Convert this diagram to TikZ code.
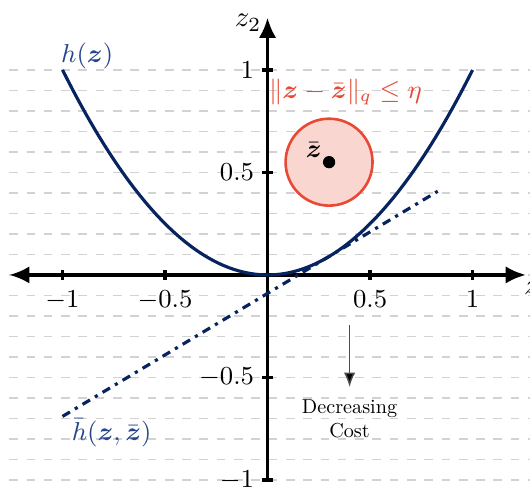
\documentclass[tikz,border=0pt]{standalone}
\usepackage{amsmath,amssymb}
\usepackage{tikz}
\usetikzlibrary{arrows.meta,positioning,calc}
\usepackage{xcolor}
\definecolor{navy}{RGB}{8,36,96}
\definecolor{navytext}{RGB}{40,70,140}
\definecolor{ballred}{RGB}{232,72,52}
\definecolor{ballfill}{RGB}{250,214,208}

\begin{document}
\begin{tikzpicture}[x=2.5cm, y=2.5cm, font=\small,
    gridline/.style={dashed, gray!35, line width=0.5pt},
    axisline/.style={line width=1.2pt, black},
    tick/.style={line width=1.2pt, black},
    curve/.style={navy, line width=1.1pt}]
    \clip (-1.305,-1.054) rectangle (1.28,1.341);

    % Background grid
    \foreach \y in {-10,...,10} {
        \draw[gridline] (-1.26, \y/10) -- (1.3, \y/10);
    }

    % Axes
    \coordinate (xmin) at (-1.26, 0);
    \coordinate (xmax) at (1.26, 0);
    \coordinate (ymin) at (0, -1);
    \coordinate (ymax) at (0, 1.255);
    \draw[axisline, {Latex[length=7pt,width=6pt]}-{Latex[length=7pt,width=6pt]}] (xmin) -- (xmax);
    \draw[axisline, -{Latex[length=7pt,width=6pt]}] (ymin) -- (ymax);
    \node[anchor=north west, inner sep=1pt, font=\normalsize] (zone) at (1.235, -0.02) {$z_1$};
    \node[left, inner sep=2pt, font=\normalsize] (ztwo) at (0, 1.23) {$z_2$};

    % Ticks
    \foreach \t/\lab in {-1/-1, -0.5/-0.5, 0.5/0.5, 1/1} {
        \draw[tick] (\t, -0.025) -- (\t, 0.025);
        \node[below, inner sep=2pt] at (\t, -0.045) {$\lab$};
        \draw[tick] (-0.025, \t) -- (0.025, \t);
        \node[left, inner sep=2pt] at (-0.035, \t) {$\lab$};
    }

    % Cost function and its linearisation
    \draw[curve, domain=-1:1, samples=80, smooth] plot (\x, {\x*\x});
    \draw[navy, line width=1.1pt, dash dot] (-1, -0.69) -- (0.83, 0.408);
    \node[text=navytext] (hlab) at (-0.88, 1.07) {$h(\boldsymbol z)$};
    \node[text=navytext] (hbarlab) at (-0.76, -0.77) {$\bar h(\boldsymbol z, \bar{\boldsymbol z})$};

    % Trust region
    \coordinate (zbar) at (0.3, 0.55);
    \draw[ballred, fill=ballfill, line width=0.9pt] (zbar) circle (0.212);
    \node[circle, fill=black, inner sep=0pt, minimum size=0.15cm] (zdot) at (zbar) {};
    \node (zbarlab) at (0.225, 0.61) {$\bar{\boldsymbol z}$};
    \node[text=ballred, anchor=west, inner sep=0pt] (ballab) at (0.005, 0.89) {$\|\boldsymbol z - \bar{\boldsymbol z}\|_q \leq \eta$};

    % Decreasing cost
    \coordinate (costtop) at (0.4, -0.245);
    \node[font=\normalsize, scale=0.7, transform shape, align=center, inner sep=3pt] (cost) at (0.4, -0.70) {Decreasing\\Cost};
    \draw[gray!60!black, line width=0.5pt, -{Latex[length=5pt,width=4pt,fill=black]}, shorten >=2pt] (costtop) -- (cost.north);
\end{tikzpicture}
\end{document}
